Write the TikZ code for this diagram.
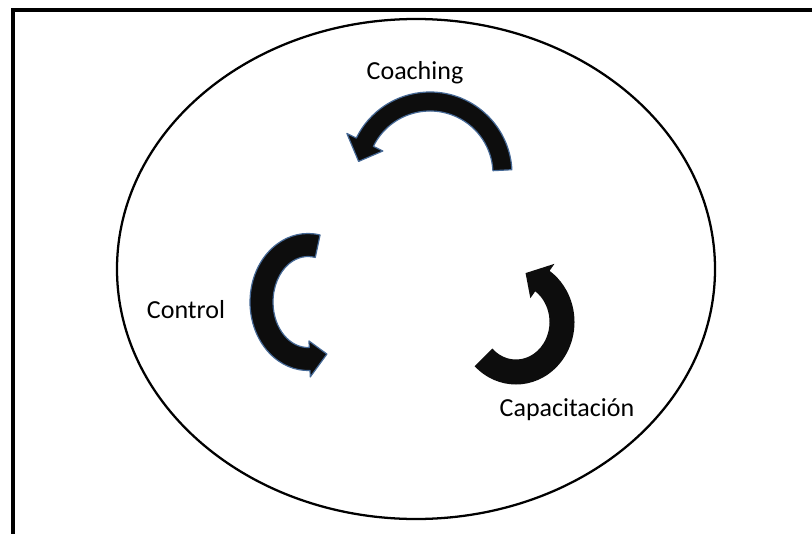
\documentclass[tikz,border=0pt]{standalone}
\usepackage{fontspec}
\setmainfont{Carlito}
\definecolor{glow}{RGB}{70,105,150}
\tikzstyle{label} = [font=\fontsize{19.5}{23}\selectfont, text=black, inner sep=0pt]
\tikzstyle{ring} = [line width=1.7pt, draw=black]
\tikzstyle{frame} = [line width=3pt, draw=black]
\tikzstyle{bent} = [fill=black!95, draw=glow, line width=0.9pt, line join=round]
\tikzstyle{bentplain} = [fill=black!95, draw=none]

% #1 style, #2 centre, #3/#4 radii, #5 half width, #6 start, #7 end, #8 head half width, #9 tip offset
\newcommand{\bentarrow}[9]{%
\begin{scope}[shift={#2}]
\filldraw[#1] (#6:{#3+#5} and {#4+#5}) arc[start angle=#6, end angle=#7, x radius=#3+#5, y radius=#4+#5]
  -- (#7:{#3+#8} and {#4+#8}) -- ({#7+#9}:#3 and #4) -- (#7:{#3-#8} and {#4-#8})
  -- (#7:{#3-#5} and {#4-#5}) arc[start angle=#7, end angle=#6, x radius=#3-#5, y radius=#4-#5] -- cycle;
\end{scope}}

\begin{document}
\begin{tikzpicture}[x=0.75pt, y=0.75pt]
\useasboundingbox (0,0) rectangle (812,533);
\clip (0,0) rectangle (812,533);
\fill[white] (0,0) rectangle (812,533);

\draw[frame] (13,-20) rectangle (840,522.5);
\draw[ring] (416,264) ellipse [x radius=299, y radius=250];

\bentarrow{bent}{(430,359)}{72.5}{72.5}{9.5}{3}{154}{20}{16}
\bentarrow{bent}{(308,231)}{46.5}{57}{11.5}{78}{272}{18}{22}
\bentarrow{bentplain}{(516,211)}{46}{50}{12.5}{-135}{55}{21}{23}

\node (coaching) [label] at (415,460) {Coaching};
\node (control) [label] at (186,223) {Control};
\node (capacitacion) [label] at (567,123) {Capacitación};
\end{tikzpicture}
\end{document}
